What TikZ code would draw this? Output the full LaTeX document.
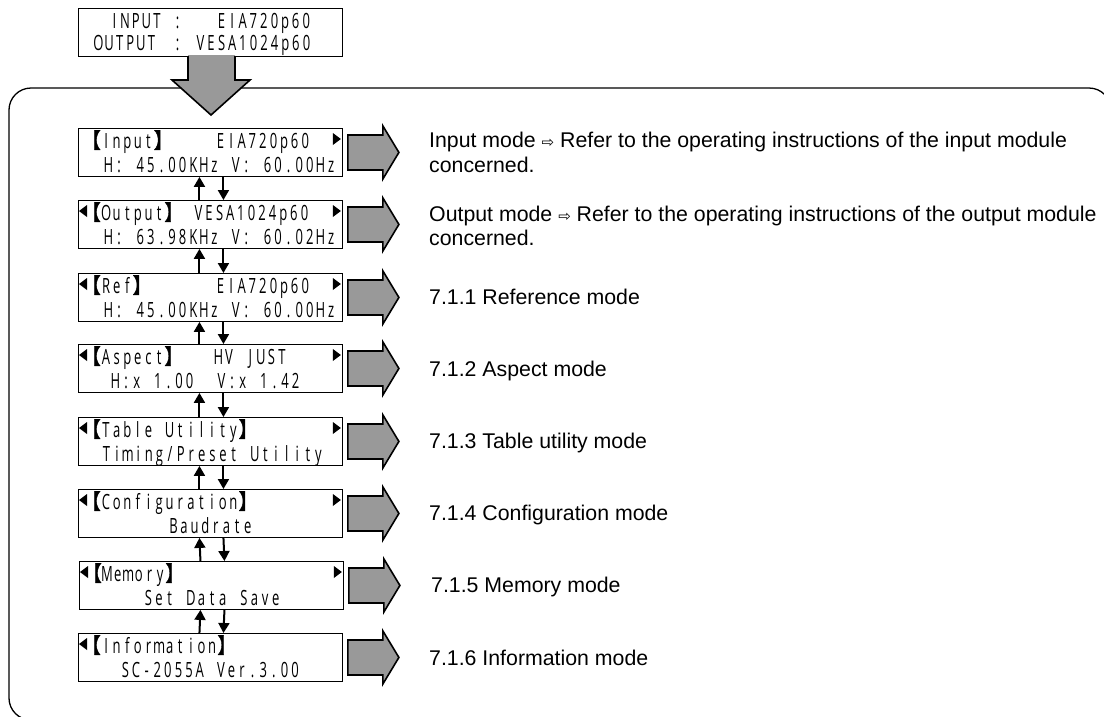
\documentclass[tikz,border=0pt]{standalone}
\usepackage{fontspec}
\setmainfont{Liberation Sans}
\newfontfamily\lcdfont{Open Sans}[FakeStretch=0.62]
\newfontfamily\brfont{Noto Sans CJK JP}[FakeStretch=0.9,FakeBold=2]
\newfontfamily\symfont{DejaVu Sans}
\usetikzlibrary{arrows.meta,calc}

% fixed-pitch display text: every character gets its own cell
\ExplSyntaxOn
\dim_new:N \l_lcd_pitch_dim
\dim_set:Nn \l_lcd_pitch_dim {10.6pt}
\NewDocumentCommand \lcd { m }
  { \tl_map_inline:nn {#1} { \makebox[\l_lcd_pitch_dim][c]{##1} } }
\ExplSyntaxOff

\newcommand\lbr{\makebox[10.6pt][r]{\brfont 【}}
\newcommand\rbr{\makebox[10.6pt][l]{\brfont 】}}
\newcommand\darr{{\symfont\fontsize{15}{20}\selectfont ⇨}}

% gray block arrow pointing right from the east side of a display box
\newcommand\modearrow[1]{%
  \draw[garrow] ($(#1.east)+(5,-17.5)$) -- ++(35,0) -- ++(0,-9) -- ++(16,26.5)
    -- ++(-16,26.5) -- ++(0,-9) -- ++(-35,0) -- cycle;}
% left / right cursor marks on a display box
\newcommand\lcursor[1]{\fill ($(#1.north west)+(1,11)$) -- ++(8,-6) -- ++(0,12) -- cycle;}
\newcommand\rcursor[1]{\fill ($(#1.north east)+(-2,11)$) -- ++(-8,-6) -- ++(0,12) -- cycle;}
% up and down navigation arrows between two stacked boxes
\newcommand\navpair[2]{%
  \draw[nav] ([xshift=-11pt]#2.north) -- ([xshift=-11pt]#1.south);
  \draw[nav] ([xshift=13pt]#1.south) -- ([xshift=13pt]#2.north);}

\begin{document}
\begin{tikzpicture}[x=1pt,y=-1pt,
  lcd/.style={draw,line width=0.9pt,minimum width=264pt,minimum height=48pt,inner sep=0pt,anchor=north west},
  lcdtext/.style={font=\lcdfont\fontsize{21}{24}\selectfont,inner sep=0pt,anchor=base west},
  desc/.style={font=\fontsize{21.3}{25}\selectfont,inner sep=0pt,anchor=base west},
  nav/.style={line width=2pt,-{Triangle[length=10pt,width=11pt]}},
  garrow/.style={draw=black,line width=1.6pt,fill=black!40,line join=miter},
  outerframe/.style={line width=1.3pt,rounded corners=22pt},
]
\useasboundingbox (0,0) rectangle (1104,716);
\begin{scope}
\clip (0,0) rectangle (1104,716);
% outer frame: only its top and left sides fall inside the picture
\draw[outerframe] (1111,140) -- (1111,88) -- (9,88) -- (9,720) -- (80,720);
\end{scope}

% current setting display
\node[lcd] (status) at (78,8) {};
\node[lcdtext] (s1a) at (109,28) {\lcd{INPUT}};
\node[lcdtext] (s1b) at (172,28) {\lcd{:}};
\node[lcdtext] (s1c) at (216,28) {\lcd{EIA720p60}};
\node[lcdtext] (s2a) at (93,50) {\lcd{OUTPUT}};
\node[lcdtext] (s2b) at (172,50) {\lcd{:}};
\node[lcdtext] (s2c) at (195,50) {\lcd{VESA1024p60}};

% big downward arrow
\fill[black!40] (188,55) -- (235,55) -- (235,80) -- (250,80) -- (211,115) -- (172,80) -- (188,80) -- cycle;
\draw[line width=1.6pt] (188,56) -- (188,80) -- (172,80) -- (211,115) -- (250,80) -- (235,80) -- (235,56);

% menu boxes
\node[lcd] (in)   at (78,128) {};
\node[lcd] (out)  at (78,200) {};
\node[lcd] (ref)  at (78,273) {};
\node[lcd] (asp)  at (78,344) {};
\node[lcd] (tab)  at (78,417) {};
\node[lcd] (conf) at (78,489) {};
\node[lcd] (mem)  at (79,561) {};
\node[lcd] (info) at (78,633) {};

% box contents
\node[lcdtext] at (90,148) {\lcd{\lbr Input\rbr}};
\node[lcdtext] at (215,148) {\lcd{EIA720p60}};
\node[lcdtext] at (103,172) {\lcd{H:~45.00KHz~V:~60.00Hz}};

\node[lcdtext] at (90,220) {\lcd{\lbr Output\rbr}};
\node[lcdtext] at (193,220) {\lcd{VESA1024p60}};
\node[lcdtext] at (103,244) {\lcd{H:~63.98KHz~V:~60.02Hz}};

\node[lcdtext] at (90,293) {\lcd{\lbr Ref\rbr}};
\node[lcdtext] at (215,293) {\lcd{EIA720p60}};
\node[lcdtext] at (103,317) {\lcd{H:~45.00KHz~V:~60.00Hz}};

\node[lcdtext] at (90,364) {\lcd{\lbr Aspect\rbr}};
\node[lcdtext] at (213,364) {\lcd{HV~JUST}};
\node[lcdtext] at (110,388) {\lcd{H:x~1.00~~V:x~1.42}};

\node[lcdtext] at (90,437) {\lcd{\lbr Table~Utility\rbr}};
\node[lcdtext] at (101,461) {\lcd{Timing/Preset~Utility}};

\node[lcdtext] at (90,509) {\lcd{\lbr Configuration\rbr}};
\node[lcdtext] at (168,533) {\lcd{Baudrate}};

\node[lcdtext] at (91,581) {\lcd{\lbr Memory\rbr}};
\node[lcdtext] at (143,605) {\lcd{Set~Data~Save}};

\node[lcdtext] at (90,653) {\lcd{\lbr Information\rbr}};
\node[lcdtext] at (120,677) {\lcd{SC-2055A~Ver.3.00}};

% cursor marks
\rcursor{in}
\lcursor{out}  \rcursor{out}
\lcursor{ref}  \rcursor{ref}
\lcursor{asp}  \rcursor{asp}
\lcursor{tab}  \rcursor{tab}
\lcursor{conf} \rcursor{conf}
\lcursor{mem}  \rcursor{mem}
\lcursor{info}

% navigation between menus
\navpair{in}{out}
\navpair{out}{ref}
\navpair{ref}{asp}
\navpair{asp}{tab}
\navpair{tab}{conf}
\navpair{conf}{mem}
\navpair{mem}{info}

% arrows to the mode descriptions
\modearrow{in}
\modearrow{out}
\modearrow{ref}
\modearrow{asp}
\modearrow{tab}
\modearrow{conf}
\modearrow{mem}
\modearrow{info}

% descriptions
\node[desc] (d1)  at (429,147) {Input mode \darr\ Refer to the operating instructions of the input module};
\node[desc] (d1b) at (429,172) {concerned.};
\node[desc] (d2)  at (429,221) {Output mode \darr\ Refer to the operating instructions of the output module};
\node[desc] (d2b) at (429,245) {concerned.};
\node[desc] (d3)  at (429,304) {7.1.1 Reference mode};
\node[desc] (d4)  at (429,376) {7.1.2 Aspect mode};
\node[desc] (d5)  at (429,448) {7.1.3 Table utility mode};
\node[desc] (d6)  at (429,520) {7.1.4 Configuration mode};
\node[desc] (d7)  at (431,592) {7.1.5 Memory mode};
\node[desc] (d8)  at (429,665) {7.1.6 Information mode};
\end{tikzpicture}
\end{document}
